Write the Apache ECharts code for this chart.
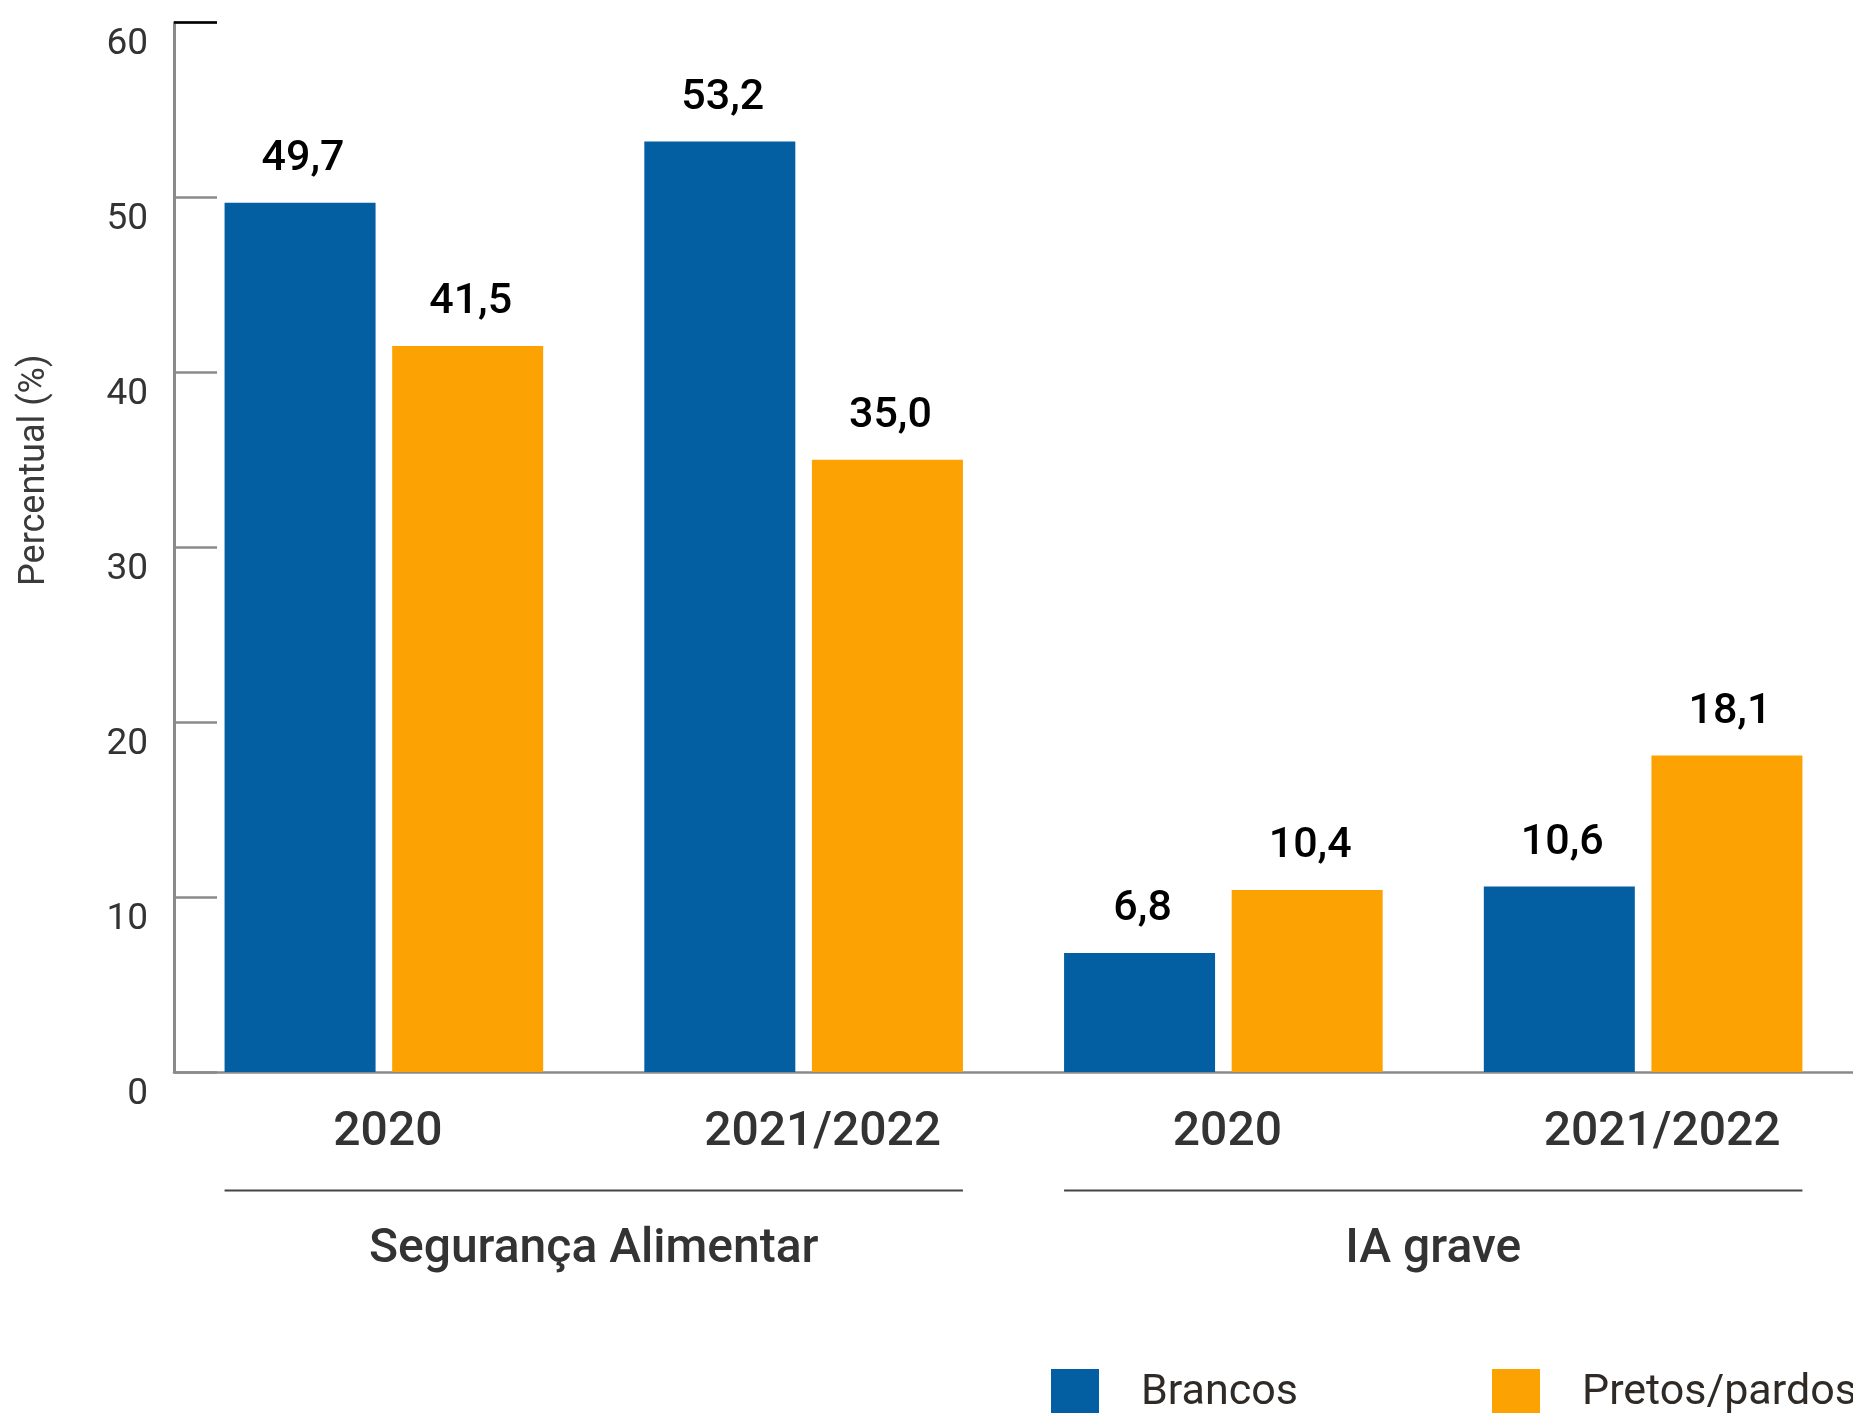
<!DOCTYPE html>
<html>
<head>
<meta charset="utf-8">
<script src="https://cdn.jsdelivr.net/npm/echarts@6/dist/echarts.min.js"></script>
<style>
html,body{margin:0;padding:0;background:#fff;}
#chart{width:1853px;height:1413px;}
</style>
</head>
<body>
<div id="chart"></div>
<script>
const categories = ['2020', '2021/2022', '2020', '2021/2022'];
const groups = ['Segurança Alimentar', 'IA grave'];
const seriesNames = ['Brancos', 'Pretos/pardos'];
const brancos = [49.7, 53.2, 6.8, 10.6];
const pretosPardos = [41.5, 35.0, 10.4, 18.1];
const yMin = 0, yMax = 60, yInterval = 10;

const BLUE = '#035ea2';
const ORANGE = '#fca203';
const FONT = 'Roboto';

const chart = echarts.init(document.getElementById('chart'), null, {renderer: 'canvas'});

const valueLabel = {
  show: true,
  position: 'top',
  distance: 22,
  offset: [3, 0],
  fontFamily: FONT,
  fontSize: 43,
  fontWeight: 500,
  color: '#000',
  formatter: p => p.value.toFixed(1).replace('.', ',')
};

const legendText = {fontFamily: FONT, fontSize: 43, color: '#2f2a26', padding: [4, 0, 0, 37]};

const option = {
  animation: false,
  backgroundColor: '#fff',
  grid: {left: 174, right: 0, top: 22.5, bottom: 341, containLabel: false},
  legend: [
    {
      data: [seriesNames[0]], left: 1051, top: 1369, padding: 0,
      itemWidth: 48, itemHeight: 48, icon: 'rect',
      textStyle: legendText
    },
    {
      data: [seriesNames[1]], left: 1492, top: 1369, padding: 0,
      itemWidth: 48, itemHeight: 48, icon: 'rect',
      textStyle: legendText
    }
  ],
  xAxis: [
    {
      type: 'category',
      data: categories,
      position: 'bottom',
      axisLine: {show: true, lineStyle: {color: '#8a8a8a', width: 2.5}},
      axisTick: {show: false},
      axisLabel: {
        margin: 37,
        interval: 0,
        fontFamily: FONT,
        fontSize: 48,
        fontWeight: 500,
        color: '#333',
        formatter: v => v === '2021/2022' ? '{w|' + v + '}' : '{n|' + v + '}',
        rich: {
          w: {fontFamily: FONT, fontSize: 48, fontWeight: 500, color: '#333', padding: [0, 0, 0, 38]},
          n: {fontFamily: FONT, fontSize: 48, fontWeight: 500, color: '#333', padding: [0, 0, 0, 8]}
        }
      }
    },
    {
      type: 'category',
      data: groups,
      position: 'bottom',
      axisLine: {show: false},
      axisTick: {show: false},
      splitLine: {show: false},
      axisLabel: {
        margin: 154,
        interval: 0,
        fontFamily: FONT,
        fontSize: 48,
        fontWeight: 500,
        color: '#333'
      }
    }
  ],
  yAxis: [
    {
      type: 'value',
      min: yMin, max: yMax, interval: yInterval,
      position: 'left',
      name: 'Percentual (%)',
      nameLocation: 'middle',
      nameGap: 121,
      nameTextStyle: {fontFamily: FONT, fontSize: 36, color: '#3a3a3a', padding: [0, 0, 0, 154]},
      axisLine: {show: true, lineStyle: {color: '#8a8a8a', width: 3}},
      axisTick: {show: true, inside: true, length: 43, lineStyle: {color: '#8a8a8a', width: 2.5}},
      splitLine: {show: false},
      axisLabel: {
        margin: 26,
        fontFamily: FONT,
        fontSize: 37,
        lineHeight: 45,
        color: '#333',
        verticalAlign: 'top'
      }
    },
    {
      type: 'value',
      min: yMin, max: yMax, interval: yMax,
      position: 'left',
      axisLine: {show: false},
      splitLine: {show: false},
      axisLabel: {show: false},
      axisTick: {show: true, inside: true, length: 43, customValues: [yMax], lineStyle: {color: '#000', width: 2.5}}
    }
  ],
  series: [
    {
      name: seriesNames[0], type: 'bar', data: brancos,
      xAxisIndex: 0, yAxisIndex: 0,
      barWidth: 151, barGap: '11%',
      itemStyle: {color: BLUE},
      label: valueLabel
    },
    {
      name: seriesNames[1], type: 'bar', data: pretosPardos,
      xAxisIndex: 0, yAxisIndex: 0,
      barWidth: 151, barGap: '11%',
      itemStyle: {color: ORANGE},
      label: valueLabel
    }
  ]
};

chart.setOption(option);

// group separator lines spanning each group's bars, placed through the axis scales
const halfGroup = 151 + 151 * 0.11 / 2;
const baseY = chart.convertToPixel({yAxisIndex: 0}, 0);
const lineY = baseY + 118.5;
const graphics = [];
for (let g = 0; g < groups.length; g++) {
  const x0 = chart.convertToPixel({xAxisIndex: 0}, g * 2) - halfGroup;
  const x1 = chart.convertToPixel({xAxisIndex: 0}, g * 2 + 1) + halfGroup;
  graphics.push({
    type: 'line',
    shape: {x1: x0, y1: lineY, x2: x1, y2: lineY},
    style: {stroke: '#444', lineWidth: 2}
  });
}
chart.setOption({graphic: graphics});
</script>
</body>
</html>
